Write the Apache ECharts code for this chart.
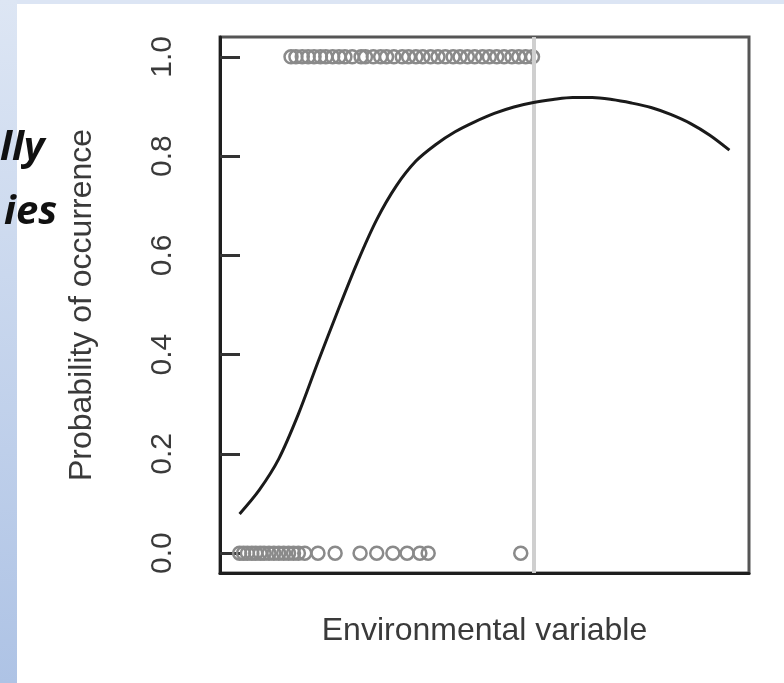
<!DOCTYPE html>
<html>
<head>
<meta charset="utf-8">
<script src="https://cdn.jsdelivr.net/npm/echarts@6/dist/echarts.min.js"></script>
<style>
html,body{margin:0;padding:0;background:#fff;}
#chart{width:784px;height:683px;}
</style>
</head>
<body>
<div id="chart"></div>
<script>
// Fitted curve (environmental variable -> probability)
const curveX = [0, 4, 8, 12, 16, 20, 24, 28, 32, 36, 40, 44, 48, 52, 56, 60, 64, 68, 72, 76, 80, 84, 88, 92, 96, 100];
const curveY = [0.079, 0.127, 0.19, 0.28, 0.385, 0.487, 0.585, 0.672, 0.74, 0.79, 0.823, 0.849, 0.869, 0.886, 0.899, 0.908, 0.914, 0.918, 0.918, 0.914, 0.907, 0.898, 0.884, 0.866, 0.842, 0.812];
// Observed presences (y = 1)
const presenceX = [10.5, 11.5, 12.8, 14, 15.2, 16.5, 17.6, 19, 20.3, 21.5, 23, 24.8, 25.7, 27.3, 28.8, 30, 31.5, 33.2, 34.5, 36, 37.4, 39, 40.5, 42, 43.6, 45, 46.5, 48, 49.6, 51, 52.5, 54, 55.6, 57, 58.4, 59.8];
// Observed absences (y = 0)
const absenceX = [0, 0.8, 1.6, 2.5, 3.3, 4.2, 5, 6, 7, 8, 9, 10, 11, 12, 13.3, 16, 19.5, 24.6, 28, 31.3, 34.2, 36.8, 38.5, 57.4];
// Threshold marker
const thresholdX = 60;
// Y tick values
const yTicks = [0, 0.2, 0.4, 0.6, 0.8, 1.0];
const xTitle = 'Environmental variable';
const yTitle = 'Probability of occurrence';
const slideText = ['lly', 'ies'];

const chart = echarts.init(document.getElementById('chart'));
const textColor = '#3a3a3a';
const font = "'Liberation Sans', Arial, sans-serif";

chart.setOption({
  animation: false,
  backgroundColor: '#ffffff',
  graphic: [
    { type: 'rect', left: 0, top: 0, shape: { width: 784, height: 4 }, style: { fill: '#dce5f4' }, z: -10 },
    { type: 'rect', left: 0, top: 0, shape: { width: 17, height: 683 },
      style: { fill: new echarts.graphic.LinearGradient(0, 0, 0, 1, [
        { offset: 0, color: '#dde6f4' }, { offset: 1, color: '#aec3e5' }]) }, z: -10 },
    { type: 'text', left: 0, top: 129, style: { text: slideText[0], font: "italic bold 40px 'Open Sans', sans-serif", fill: '#111' }, z: 10 },
    { type: 'text', left: 4, top: 193, style: { text: slideText[1], font: "italic bold 40px 'Open Sans', sans-serif", fill: '#111' }, z: 10 }
  ],
  grid: {
    left: 220, right: 35, top: 37, bottom: 110,
    show: true, borderColor: '#555', borderWidth: 3, backgroundColor: 'transparent'
  },
  xAxis: {
    type: 'value', min: -4, max: 104,
    name: xTitle, nameLocation: 'middle', nameGap: 42,
    nameTextStyle: { fontFamily: font, fontSize: 32, color: textColor },
    axisLine: { show: true, onZero: false, lineStyle: { color: '#1e1e1e', width: 3 } },
    axisTick: { show: false }, axisLabel: { show: false }, splitLine: { show: false }
  },
  yAxis: {
    type: 'value', min: -0.04, max: 1.04,
    name: yTitle, nameLocation: 'middle', nameGap: 122, nameRotate: 90,
    nameTextStyle: { fontFamily: font, fontSize: 32, color: textColor },
    axisLine: { show: true, onZero: false, lineStyle: { color: '#1e1e1e', width: 3 } },
    axisTick: { show: true, inside: true, length: 20, customValues: yTicks, lineStyle: { color: '#333', width: 3 } },
    axisLabel: { show: true, rotate: 90, margin: 42, customValues: yTicks,
      formatter: v => Number(v).toFixed(1),
      fontFamily: font, fontSize: 30, color: textColor },
    splitLine: { show: false }
  },
  series: [
    {
      type: 'line', data: curveX.map((x, i) => [x, curveY[i]]),
      smooth: 0.3, showSymbol: false, symbol: 'none',
      lineStyle: { color: '#1a1a1a', width: 3 }, z: 5,
      markLine: {
        silent: true, symbol: 'none', label: { show: false },
        lineStyle: { color: '#cfcfcf', width: 4, type: 'solid' },
        data: [{ xAxis: thresholdX }]
      }
    },
    {
      type: 'scatter', data: presenceX.map(x => [x, 1]),
      symbol: 'circle', symbolSize: 13,
      itemStyle: { color: 'rgba(0,0,0,0)', borderColor: '#8a8a8a', borderWidth: 2.5, opacity: 1 }, z: 4
    },
    {
      type: 'scatter', data: absenceX.map(x => [x, 0]),
      symbol: 'circle', symbolSize: 13,
      itemStyle: { color: 'rgba(0,0,0,0)', borderColor: '#8a8a8a', borderWidth: 2.5, opacity: 1 }, z: 4
    }
  ]
});
</script>
</body>
</html>
